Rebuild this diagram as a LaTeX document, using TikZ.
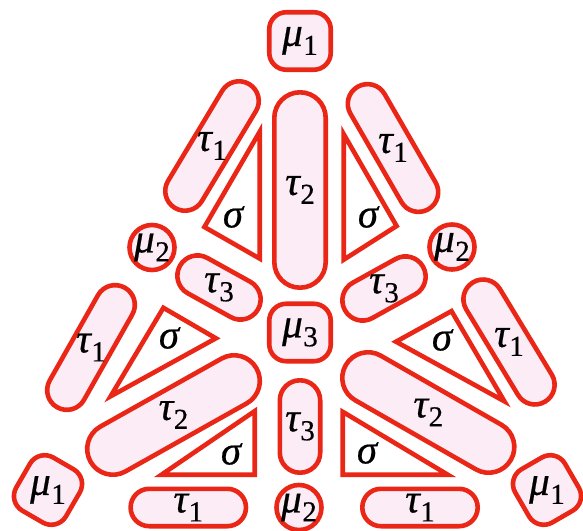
\documentclass[tikz,border=0pt]{standalone}
\usepackage{fontspec}
\setmainfont{Liberation Serif}
\definecolor{sred}{RGB}{234,38,22}
\definecolor{spink}{RGB}{252,236,246}
\newcommand{\gsub}[2]{#1\kern0.5pt\raisebox{-9pt}{\fontsize{29}{29}\selectfont\upshape\addfontfeatures{FakeBold=0.5}#2}}
\tikzset{
  shp/.style={draw=sred, fill=spink, line width=4.6pt, inner sep=0pt, outer sep=0pt},
  txt/.style={inner sep=0pt, font=\fontsize{41}{41}\selectfont\itshape\addfontfeatures{FakeBold=0.5}},
  tri/.style={draw=sred, fill=white, line width=4.6pt, line join=miter},
}
% name, x, y, angle, outer length, outer width, label
\newcommand{\stad}[7]{%
  \node[shp, rotate=#4, minimum width={#5-4.6}, minimum height={#6-4.6},
        rounded corners={(#6-4.6)/2-0.05}] (#1) at (#2,#3) {};
  \node[txt] (#1-t) at (#2,#3) {#7};}
% name, x, y, angle, label
\newcommand{\rbox}[5]{%
  \node[shp, rotate=#4, minimum width=61.5, minimum height=57.5, rounded corners=17] (#1) at (#2,#3) {};
  \node[txt] (#1-t) at (#2,#3) {#5};}
\newcommand{\rcirc}[4]{%
  \node[shp, circle, minimum size=#4] (#1) at (#2,#3) {};
  \node[txt] (#1-t) at (#2,#3) {\gsub{μ}{2}};}
% name, A, B, C, label position
\newcommand{\sig}[5]{%
  \coordinate (#1-a) at (#2); \coordinate (#1-b) at (#3); \coordinate (#1-c) at (#4);
  \draw[tri] (#1-a) -- (#1-b) -- (#1-c) -- cycle;
  \node[txt] (#1-t) at (#5) {σ};}
\begin{document}
\begin{tikzpicture}[x=1pt, y=-1pt]
\useasboundingbox (0,0) rectangle (583,530);
% mu boxes
\rbox{m1a}{300}{41}{0}{\gsub{μ}{1}}
\rbox{m1b}{48}{490}{240}{\gsub{μ}{1}}
\rbox{m1c}{547}{490}{120}{\gsub{μ}{1}}
\rbox{m3}{300}{332.5}{0}{\gsub{μ}{3}}
\rcirc{m2a}{152}{247.5}{45}
\rcirc{m2b}{452}{247}{45}
\rcirc{m2c}{299}{507.5}{45}
% tau 2
\stad{t2a}{300}{190}{90}{200}{56}{\gsub{τ}{2}}
\stad{t2b}{173.5}{415}{29.3}{195}{56}{\gsub{τ}{2}}
\stad{t2c}{428.3}{412.5}{-29.8}{195}{56}{\gsub{τ}{2}}
% tau 3
\stad{t3a}{300}{426.5}{90}{97}{45}{\gsub{τ}{3}}
\stad{t3b}{219}{287.5}{-29}{94}{45}{\gsub{τ}{3}}
\stad{t3c}{384}{288.5}{29}{94}{45}{\gsub{τ}{3}}
% tau 1
\stad{t1a}{188.3}{507.5}{0}{120}{42}{\gsub{τ}{1}}
\stad{t1b}{420}{507.5}{0}{120}{42}{\gsub{τ}{1}}
\stad{t1c}{91}{347.5}{60.5}{142}{44}{\gsub{τ}{1}}
\stad{t1d}{509}{342}{-58.8}{144}{44}{\gsub{τ}{1}}
\stad{t1e}{212}{146}{59}{149}{44}{\gsub{τ}{1}}
\stad{t1f}{393}{148}{-60}{146}{44}{\gsub{τ}{1}}
% sigma triangles
\sig{s1}{259.7,131.7}{259.7,258.6}{204.4,227}{233,217}
\sig{s2}{343.7,134.1}{343.7,259.7}{396.6,226}{368,217}
\sig{s3}{163.4,307.8}{215.9,338.3}{110.6,396.3}{169,338}
\sig{s4}{451.5,311.1}{396.0,341.7}{504.4,401.3}{442,340}
\sig{s5}{254.7,411.1}{254.7,474.7}{161.5,474.7}{231,454}
\sig{s6}{342.7,411.8}{342.7,474.7}{447.75,474.7}{367,453}
\end{tikzpicture}
\end{document}
